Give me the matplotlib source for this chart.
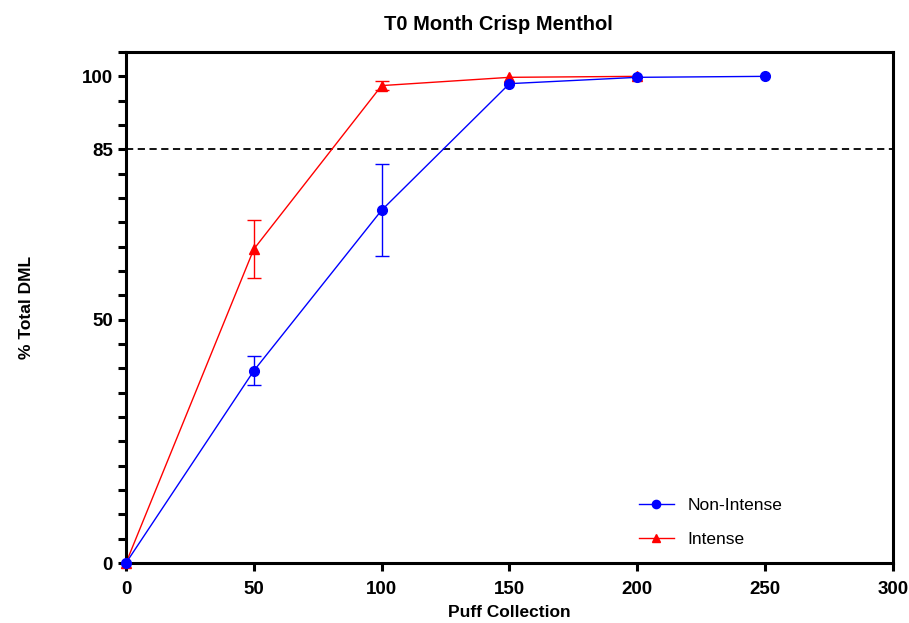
import numpy as np
import matplotlib
matplotlib.use('Agg')
import matplotlib.pyplot as plt
from matplotlib.ticker import MultipleLocator

# dados
puffs_ni = [0, 50, 100, 150, 200, 250]
dml_ni = [0, 39.5, 72.5, 98.5, 99.8, 100]
err_ni = [0, 3.0, 9.4, 0, 0, 0]

puffs_i = [0, 50, 100, 150, 200]
dml_i = [0, 64.5, 98.1, 99.8, 100]
err_i = [0, 6.0, 0.9, 0, 0]

yticks = [0, 50, 85, 100]
xticks = [0, 50, 100, 150, 200, 250, 300]

plt.rcParams['font.family'] = ['Liberation Sans', 'DejaVu Sans']

fig = plt.figure(figsize=(9.09, 6.23), dpi=100)
ax = fig.add_axes([0.1386, 0.0963, 0.8438, 0.8202])

ax.axhline(85, color='black', linestyle=(0, (4, 2.5)), linewidth=1.3, zorder=1)

series = [(puffs_ni, dml_ni, err_ni, 'blue', 'o', 'Non-Intense', 3),
          (puffs_i, dml_i, err_i, 'red', '^', 'Intense', 2)]
for x, y, e, c, m, lab, z in series:
    ax.plot(x, y, color=c, marker=m, markersize=7, linewidth=1, label=lab,
            clip_on=False, zorder=z)
    x = np.array(x)
    y = np.array(y)
    e = np.array(e)
    k = e > 0
    ax.errorbar(x[k], y[k], yerr=e[k], fmt='none', ecolor=c, elinewidth=1,
                capsize=5, capthick=1, zorder=z)

ax.set_xlim(0, 300)
ax.set_ylim(0, 105)
ax.set_xticks(xticks)
ax.set_yticks(yticks)
ax.yaxis.set_minor_locator(MultipleLocator(5))

for s in ax.spines.values():
    s.set_linewidth(2.2)
ax.tick_params(axis='both', which='major', length=6, width=2.2, labelsize=13.5)
ax.tick_params(axis='x', which='major', pad=7)
ax.tick_params(axis='y', which='minor', length=6, width=2.2)
for lab in ax.get_xticklabels() + ax.get_yticklabels():
    lab.set_fontweight('bold')

ax.set_xlabel('Puff Collection', fontsize=12.5, fontweight='bold', labelpad=5)
ax.set_ylabel('% Total DML', fontsize=12.5, fontweight='bold', labelpad=34)
ax.set_title('T0 Month Crisp Menthol', fontsize=14.5, fontweight='bold', pad=16, x=0.485)

leg = ax.legend(loc='lower right', bbox_to_anchor=(0.876, 0.0), frameon=False,
                fontsize=12.5, handlelength=2.0, labelspacing=1.1, markerscale=0.85)

fig.savefig('out.png', dpi=100)
